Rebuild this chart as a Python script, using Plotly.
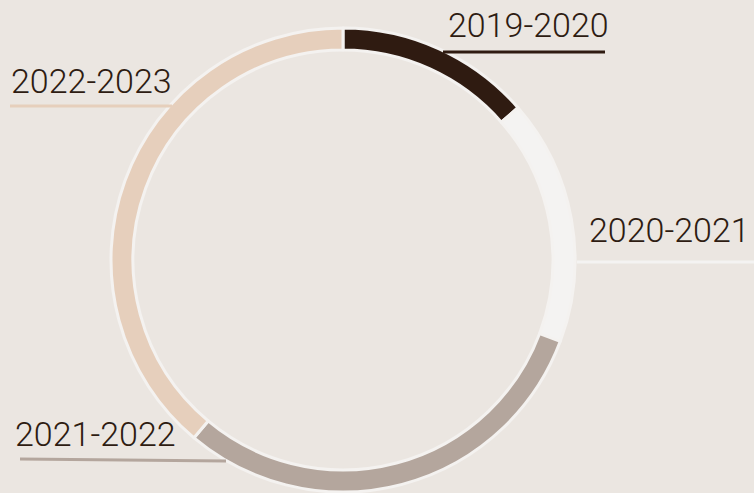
import plotly.graph_objects as go

categories = ["2019-2020", "2020-2021", "2021-2022", "2022-2023"]
values = [13.6, 17.1, 30.4, 38.9]
colors = ["#2f1b11", "#f4f3f2", "#b4a69d", "#e6cfbc"]

W, H = 754, 493
BG = "#ebe6e1"
TXT = "#2e1c12"

cx, cy, r = 343, 260, 232

fig = go.Figure(go.Pie(
    labels=categories, values=values, sort=False, direction="clockwise", rotation=0,
    hole=0.905, textinfo="none", hoverinfo="label+percent",
    marker=dict(colors=colors, line=dict(color="#f4f2f0", width=3)),
    domain=dict(x=[(cx - r) / W, (cx + r) / W], y=[1 - (cy + r) / H, 1 - (cy - r) / H]),
    showlegend=False,
))

def px(x):
    return x / W

def py(y):
    return 1 - y / H

# label placement: (text x, text baseline y, anchor, line x0, line y0, line x1, line y1)
labels_layout = [
    (611, 47, "right", 443, 52, 605, 52),
    (752, 252, "right", 577, 262, 754, 262),
    (13, 456, "left", 20, 459, 226, 461),
    (9, 103, "left", 10, 106, 172, 106),
]

shapes = []
annotations = []
for cat, col, (tx, ty, anc, x0, y0, x1, y1) in zip(categories, colors, labels_layout):
    shapes.append(dict(type="line", xref="paper", yref="paper",
                       x0=px(x0), y0=py(y0), x1=px(x1), y1=py(y1),
                       line=dict(color=col, width=3)))
    annotations.append(dict(text=cat, xref="paper", yref="paper", x=px(tx), y=py(ty),
                            xanchor=anc, yanchor="bottom", showarrow=False,
                            font=dict(family="Roboto", size=34, color=TXT, weight=300)))

fig.update_layout(
    width=W, height=H, margin=dict(l=0, r=0, t=0, b=0),
    paper_bgcolor=BG, plot_bgcolor=BG,
    shapes=shapes, annotations=annotations,
)

fig.write_html("out.html", config={"displayModeBar": False},
               post_script="document.body.style.margin='0';document.body.style.padding='0';")
